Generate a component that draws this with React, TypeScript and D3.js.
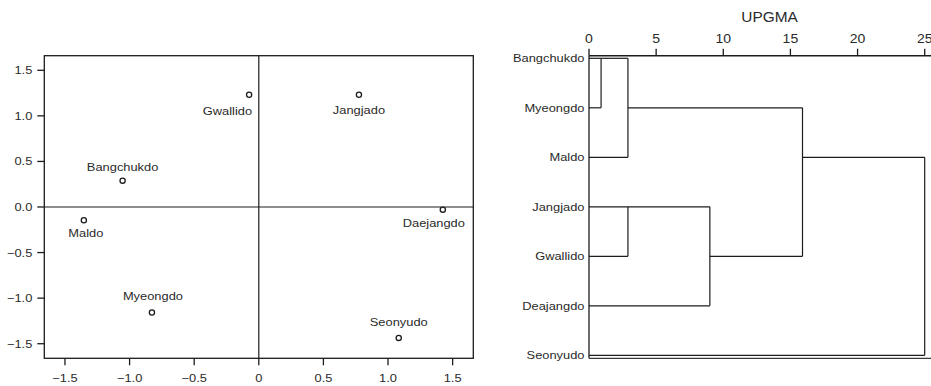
import React from "react";
import * as d3 from "d3";

// PCoA coordinates of the seven islands
const sites = ["Gwallido", "Jangjado", "Bangchukdo", "Maldo", "Daejangdo", "Myeongdo", "Seonyudo"];
const axis1 = [-0.075, 0.775, -1.054, -1.354, 1.424, -0.827, 1.083];
const axis2 = [1.232, 1.232, 0.289, -0.146, -0.029, -1.158, -1.436];
const scatterTicks = [-1.5, -1.0, -0.5, 0, 0.5, 1.0, 1.5];

// UPGMA dendrogram: leaf order and merges (ids >= leaves.length refer to earlier merges)
const leaves = ["Bangchukdo", "Myeongdo", "Maldo", "Jangjado", "Gwallido", "Deajangdo", "Seonyudo"];
const mergeA = [0, 7, 3, 9, 8, 11];
const mergeB = [1, 2, 4, 5, 10, 6];
const mergeDist = [0.9, 2.9, 2.9, 9.0, 15.9, 25];
const distTicks = [0, 5, 10, 15, 20, 25];

// label placement next to each point (dx, dy, anchor)
const labelPlace: Record<string, [number, number, string]> = {
  Gwallido: [3, 20, "end"],
  Jangjado: [0, 19, "middle"],
  Bangchukdo: [0, -10, "middle"],
  Maldo: [2, 17, "middle"],
  Daejangdo: [-9, 17, "middle"],
  Myeongdo: [1, -13, "middle"],
  Seonyudo: [0, -12, "middle"],
};

const FONT = "'Liberation Sans', Arial, Helvetica, sans-serif";
const INK = "#1c1c1c";
const TXT = "#2a2a2a";
const SX = 1.17; // the source figure is slightly stretched horizontally

const Label = ({ x, y, anchor = "middle", size = 11, sx = SX, children }: any) => (
  <text
    transform={`translate(${x},${y}) scale(${sx},1)`}
    textAnchor={anchor}
    fontSize={size}
    fontFamily={FONT}
    fill={TXT}
  >
    {children}
  </text>
);

const fmt = (v: number) => (v === 0 ? "0" : d3.format(".1f")(v).replace("-", "\u2212"));
const fmtY = (v: number) => d3.format(".1f")(v).replace("-", "\u2212");

const Scatter = () => {
  const x = d3.scaleLinear().domain([-1.66, 1.66]).range([44.3, 473.3]);
  const y = d3.scaleLinear().domain([-1.66, 1.66]).range([358.3, 55.7]);
  const [x0, x1] = x.range();
  const [y0, y1] = y.range();
  return (
    <g>
      <rect x={x0} y={y1} width={x1 - x0} height={y0 - y1} fill="none" stroke={INK} strokeWidth={1.3} />
      <line x1={x(0)} x2={x(0)} y1={y1} y2={y0} stroke={INK} strokeWidth={1.2} />
      <line x1={x0} x2={x1} y1={y(0)} y2={y(0)} stroke={INK} strokeWidth={1.2} />
      {scatterTicks.map((t) => (
        <g key={"y" + t}>
          <line x1={x0 - 7} x2={x0} y1={y(t)} y2={y(t)} stroke={INK} strokeWidth={1.3} />
          <Label x={x0 - 12} y={y(t) + 4} anchor="end">{fmtY(t)}</Label>
        </g>
      ))}
      {scatterTicks.map((t) => (
        <g key={"x" + t}>
          <line x1={x(t)} x2={x(t)} y1={y0} y2={y0 + 7} stroke={INK} strokeWidth={1.3} />
          <Label x={x(t)} y={381.5}>{fmt(t)}</Label>
        </g>
      ))}
      {sites.map((s, i) => {
        const [dx, dy, anchor] = labelPlace[s];
        const px = x(axis1[i]);
        const py = y(axis2[i]);
        return (
          <g key={s}>
            <circle cx={px} cy={py} r={2.6} fill="#fff" stroke={INK} strokeWidth={1.3} />
            <Label x={px + dx} y={py + dy} anchor={anchor}>{s}</Label>
          </g>
        );
      })}
    </g>
  );
};

const Dendrogram = () => {
  const x = d3.scaleLinear().domain([0, 25]).range([589, 924.7]);
  const y = d3.scaleLinear().domain([0, leaves.length - 1]).range([58.3, 355.3]);
  const top = 55.7;
  const bottom = 358.3;
  const right = 940;

  const nodes: { row: number; h: number }[] = leaves.map((_, i) => ({ row: i, h: 0 }));
  const segs: [number, number, number, number][] = [];
  mergeDist.forEach((d, k) => {
    const a = nodes[mergeA[k]];
    const b = nodes[mergeB[k]];
    segs.push([x(a.h), y(a.row), x(d), y(a.row)]);
    segs.push([x(b.h), y(b.row), x(d), y(b.row)]);
    segs.push([x(d), y(a.row), x(d), y(b.row)]);
    nodes.push({ row: Math.floor((a.row + b.row) / 2), h: d });
  });

  return (
    <g>
      <Label x={(x(0) + right) / 2 + 5} y={22} size={14} sx={1.1}>UPGMA</Label>
      <line x1={x(0)} x2={right} y1={top} y2={top} stroke={INK} strokeWidth={1.4} />
      <line x1={x(0)} x2={x(0)} y1={top} y2={bottom} stroke={INK} strokeWidth={1.3} />
      <line x1={x(0)} x2={right} y1={bottom} y2={bottom} stroke="#3a3a3a" strokeWidth={1.3} />
      {distTicks.map((t) => (
        <g key={t}>
          <line x1={x(t)} x2={x(t)} y1={top} y2={top - 7} stroke={INK} strokeWidth={1.3} />
          <Label x={x(t)} y={42.7} size={13} sx={1.08}>{t}</Label>
        </g>
      ))}
      {leaves.map((l, i) => (
        <Label key={l} x={584.5} y={y(i) + 4} anchor="end">{l}</Label>
      ))}
      {segs.map((s, i) => (
        <line key={i} x1={s[0]} y1={s[1]} x2={s[2]} y2={s[3]} stroke={INK} strokeWidth={1.2} />
      ))}
    </g>
  );
};

export default function App() {
  return (
    <svg
      width={931}
      height={386}
      style={{ position: "absolute", left: 0, top: 0, background: "#fff" }}
    >
      <rect width={931} height={386} fill="#fff" />
      <Scatter />
      <Dendrogram />
    </svg>
  );
}
